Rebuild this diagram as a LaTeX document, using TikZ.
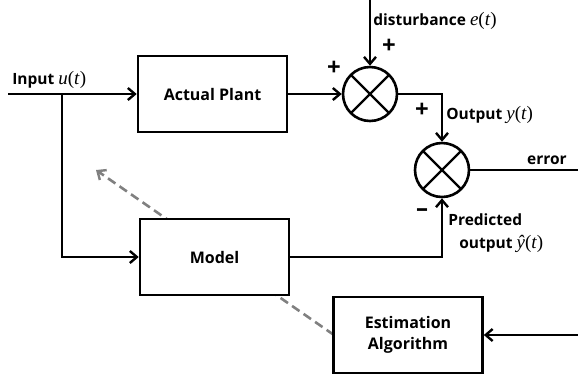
\documentclass[tikz,border=0pt]{standalone}
\usepackage{fontspec}
\setmainfont{Open Sans}
\newfontfamily\mfont{Liberation Serif}
\usetikzlibrary{arrows.meta,calc}
\newcommand{\mv}[1]{{\mfont\fontsize{19}{19}\selectfont\mdseries\itshape #1\/\upshape(\itshape t\/\upshape)}}
\begin{document}
\begin{tikzpicture}[x=1pt,y=-1pt,
  line width=2.6pt,
  lbl/.style={font=\fontsize{15.5}{20}\selectfont\bfseries, inner sep=0pt},
  blk/.style={draw, fill=white, minimum width=149pt, minimum height=76pt, font=\fontsize{16}{21}\selectfont\bfseries, align=center},
  sumj/.style={draw, circle, minimum size=54pt, inner sep=0pt, path picture={
      \draw[line width=2.4pt] (path picture bounding box.north west) -- (path picture bounding box.south east)
        (path picture bounding box.north east) -- (path picture bounding box.south west);}},
  arr/.style={-{Straight Barb[length=7pt,width=12pt,line width=2.4pt]}},
  sgn/.style={font=\fontsize{24}{24}\selectfont\bfseries, inner sep=0pt}
]
\useasboundingbox (0,0) rectangle (578,376);
\coordinate (dashend) at (96,170);
\coordinate (eststart) at (334,335);
\draw[gray, line width=2.6pt, dash pattern=on 9pt off 5pt, -{Straight Barb[length=7pt,width=12pt,line width=2.4pt]}] (eststart) -- (dashend);
\node[blk] (plant) at (212.5,94) {Actual Plant};
\node[blk] (model) at (214.5,257) {Model};
\node[blk] (est) at (408,335) {Estimation\\Algorithm};
\node[sumj] (s1) at (370,94) {};
\node[sumj] (s2) at (442,170) {};
\coordinate (in) at (8,94);
\coordinate (br) at (62,94);
\coordinate (dist) at (370,0);
\coordinate (errend) at (578,170);
\coordinate (estin) at (578,335);

\draw[arr] (in) -- (plant.west);
\draw[arr] (br) |- (model.west);
\draw[arr] (plant.east) -- (s1.west);
\draw[arr] (dist) -- (s1.north);
\draw[arr] (s1.east) -| (s2.north);
\draw[arr] (model.east) -| (s2.south);
\draw (s2.east) -- (errend);
\draw[arr] (estin) -- (est.east);

\node[lbl, anchor=west] (inlbl) at (11,80) {Input \mv{u}};
\node[lbl, anchor=west] (dlbl) at (372,21) {disturbance \mv{e}};
\node[sgn] (p1) at (389,46) {+};
\node[sgn] (p2) at (334,68) {+};
\node[sgn] (p3) at (422,110) {+};
\node[sgn] (m1) at (422,213) {\textendash};
\node[lbl, anchor=west] (olbl) at (445,115) {Output \mv{y}};
\node[lbl] (elbl) at (547,160) {error};
\node[lbl, anchor=west, align=left, font=\fontsize{15.5}{23}\selectfont\bfseries] (plbl) at (447,233) {Predicted\\\hspace*{11pt}output \mv{ŷ}};
\end{tikzpicture}
\end{document}
